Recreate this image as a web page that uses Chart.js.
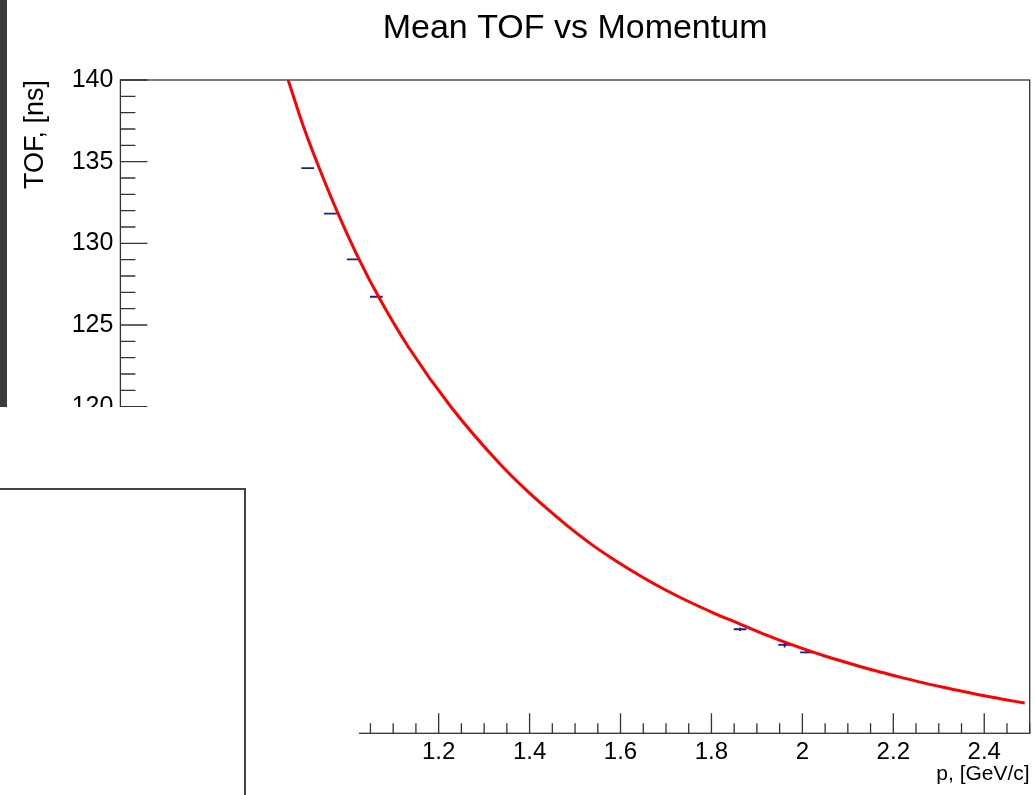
<!DOCTYPE html>
<html>
<head>
<meta charset="utf-8">
<title>Mean TOF vs Momentum</title>
<script src="https://cdn.jsdelivr.net/npm/chart.js@4.4.1/dist/chart.umd.min.js"></script>
<style>
  html, body { margin: 0; padding: 0; background: #fff; }
  #wrap { position: relative; width: 1035px; height: 795px; overflow: hidden; }
  #tofChart { display: block; }
  /* pieces of other windows lying over the ROOT canvas */
  .cover { position: absolute; z-index: 2; }
  #sideBar { left: 0; top: 0; width: 7px; height: 407px; background: #3b3b3b; }
  #lowerWin { left: 0; top: 407px; width: 359px; height: 388px; background: #fff; }
  #lowerBox { left: 0; top: 488px; width: 244px; height: 310px; border-top: 2px solid #444; border-right: 2px solid #444; background: #fff; }
</style>
</head>
<body>
<div id="wrap">
  <canvas id="tofChart" width="1035" height="795"></canvas>
  <div class="cover" id="sideBar"></div>
  <div class="cover" id="lowerWin"></div>
  <div class="cover" id="lowerBox"></div>
</div>
<script>
/* ==========================
   Data
   ========================== */
// fitted curve (red)
const fitP = [0.869, 0.902, 0.939, 0.979, 1.025, 1.071, 1.133, 1.229, 1.335, 1.394,
              1.445, 1.482, 1.540, 1.592, 1.643, 1.694, 1.745, 1.804, 1.863, 1.921,
              1.998, 2.053, 2.112, 2.163, 2.215, 2.273, 2.325, 2.383, 2.435, 2.489];
const fitTof = [140.0, 137.20, 134.49, 131.80, 129.02, 126.57, 123.67, 119.92, 116.49, 114.86,
                113.60, 112.73, 111.49, 110.52, 109.65, 108.85, 108.13, 107.38, 106.69, 106.01,
                105.21, 104.70, 104.21, 103.81, 103.44, 103.04, 102.73, 102.39, 102.12, 101.85];

// profile points (blue) with their errors
const profP    = [0.912, 0.962, 1.012, 1.063, 1.863, 1.961, 2.009];
const profTof  = [134.61, 131.82, 129.02, 126.73, 106.37, 105.41, 104.96];
const profPErr = [0.014, 0.014, 0.014, 0.014, 0.014, 0.014, 0.014];
const profTofErr = [0.05, 0.05, 0.05, 0.05, 0.1, 0.15, 0.08];

// axes
const xTickValues = [0.6, 0.8, 1.0, 1.2, 1.4, 1.6, 1.8, 2.0, 2.2, 2.4];
const xTickLabels = ['0.6', '0.8', '1', '1.2', '1.4', '1.6', '1.8', '2', '2.2', '2.4'];
const yTickValues = [100, 105, 110, 115, 120, 125, 130, 135, 140];
const yTickLabels = ['100', '105', '110', '115', '120', '125', '130', '135', '140'];

const X_MIN = 0.5, X_MAX = 2.5;
const Y_MIN = 100, Y_MAX = 140;

/* ==========================
   ROOT-style frame, inward ticks and error bars
   ========================== */
const rootFrame = {
  id: 'rootFrame',
  beforeDatasetsDraw(chart) {
    const { ctx, chartArea: a, scales: { x, y } } = chart;
    ctx.save();
    ctx.strokeStyle = '#333';
    ctx.lineWidth = 1.3;
    ctx.strokeRect(a.left, a.top, a.right - a.left, a.bottom - a.top);

    ctx.beginPath();
    // x axis: minor every 0.05, major every 0.2
    for (let i = 0; i <= 40; i++) {
      const v = X_MIN + i * 0.05;
      const major = xTickValues.some(t => Math.abs(t - v) < 1e-6);
      const px = x.getPixelForValue(v);
      ctx.moveTo(px, a.bottom);
      ctx.lineTo(px, a.bottom - (major ? 20 : 10));
    }
    // y axis: minor every 1, major every 5
    for (let i = 0; i <= 40; i++) {
      const v = Y_MIN + i;
      const major = yTickValues.includes(v);
      const py = y.getPixelForValue(v);
      ctx.moveTo(a.left, py);
      ctx.lineTo(a.left + (major ? 27 : 15), py);
    }
    ctx.stroke();

    // profile error bars
    ctx.strokeStyle = '#1c1ca0';
    ctx.lineWidth = 1.8;
    ctx.beginPath();
    profP.forEach((p, i) => {
      const py = y.getPixelForValue(profTof[i]);
      ctx.moveTo(x.getPixelForValue(p - profPErr[i]), py);
      ctx.lineTo(x.getPixelForValue(p + profPErr[i]), py);
      const px = x.getPixelForValue(p);
      ctx.moveTo(px, y.getPixelForValue(profTof[i] - profTofErr[i]));
      ctx.lineTo(px, y.getPixelForValue(profTof[i] + profTofErr[i]));
    });
    ctx.stroke();
    ctx.restore();
  }
};

/* ==========================
   Chart
   ========================== */
function init() {
  Chart.defaults.font.family = '"Liberation Sans", Arial, Helvetica, sans-serif';
  Chart.defaults.color = '#000';

  const ctx = document.getElementById('tofChart');
  new Chart(ctx, {
    type: 'scatter',
    data: {
      datasets: [
        {
          label: 'fit',
          data: fitP.map((p, i) => ({ x: p, y: fitTof[i] })),
          showLine: true,
          borderColor: '#ff0000',
          borderWidth: 3,
          pointRadius: 0,
          cubicInterpolationMode: 'monotone',
          fill: false
        },
        {
          label: 'Mean TOF',
          data: profP.map((p, i) => ({ x: p, y: profTof[i] })),
          showLine: false,
          pointRadius: 0,
          borderColor: '#1c1ca0'
        }
      ]
    },
    options: {
      responsive: false,
      animation: false,
      events: [],
      layout: { padding: { top: 0, right: 5.3, bottom: 0, left: 0 } },
      plugins: {
        legend: { display: false },
        tooltip: { enabled: false },
        title: {
          display: true,
          text: 'Mean TOF vs Momentum',
          fullSize: false,
          font: { size: 34, weight: 'normal' },
          color: '#000',
          padding: { top: 8, bottom: 31.2 }
        }
      },
      scales: {
        x: {
          type: 'linear',
          min: X_MIN,
          max: X_MAX,
          grid: { display: false, drawTicks: false },
          border: { display: false },
          afterBuildTicks: s => { s.ticks = xTickValues.map(v => ({ value: v })); },
          afterFit: s => { s.height = 61.7; },
          ticks: {
            padding: 5,
            font: { size: 24 },
            callback: (v) => {
              const i = xTickValues.findIndex(t => Math.abs(t - v) < 1e-6);
              return i >= 0 ? xTickLabels[i] : '';
            }
          },
          title: {
            display: true,
            text: 'p, [GeV/c]',
            align: 'end',
            font: { size: 21 },
            padding: { top: 0, bottom: 8 }
          }
        },
        y: {
          type: 'linear',
          min: Y_MIN,
          max: Y_MAX,
          grid: { display: false, drawTicks: false },
          border: { display: false },
          afterBuildTicks: s => { s.ticks = yTickValues.map(v => ({ value: v })); },
          afterFit: s => { s.width = 120.4; },
          ticks: {
            padding: 7,
            font: { size: 25 },
            callback: (v) => {
              const i = yTickValues.indexOf(v);
              return i >= 0 ? yTickLabels[i] : '';
            }
          },
          title: {
            display: true,
            text: 'TOF, [ns]',
            align: 'end',
            font: { size: 27 },
            padding: { top: 19, bottom: 0 }
          }
        }
      }
    },
    plugins: [rootFrame]
  });
}

if (document.readyState === 'loading') {
  document.addEventListener('DOMContentLoaded', init);
} else {
  init();
}
</script>
</body>
</html>
